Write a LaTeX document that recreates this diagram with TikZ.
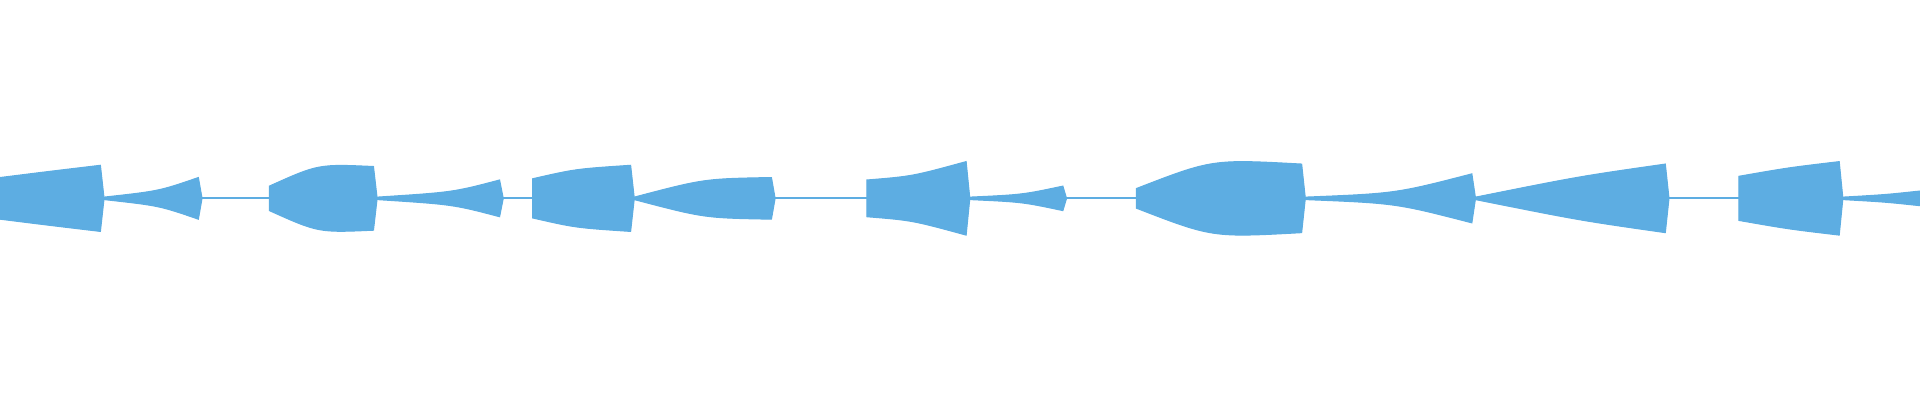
\documentclass[tikz,border=0pt]{standalone}
\definecolor{wave}{RGB}{93,173,226}
\tikzset{wavefill/.style={fill=wave,draw=wave,line width=0.3pt}}
% \blob{x0}{xm}{x1}{a0}{am}{a1}
\newcommand{\blob}[6]{%
  \fill[wavefill] (#1,162-#4) .. controls (#2,162-#5) .. (#3,162-#6) -- (#3+3,162)
    -- (#3,162+#6) .. controls (#2,162+#5) .. (#1,162+#4) -- cycle;}
\begin{document}
\begin{tikzpicture}[x=0.012245cm,y=-0.012245cm]
\useasboundingbox (0,0) rectangle (1568,326.6);
\draw[wave,line width=0.6pt] (0,162) -- (1568,162);
\blob{0}{40}{82}{17}{22}{27}
\blob{85}{130}{162}{1}{6}{17}
\blob{220}{260}{305}{10}{28}{26}
\blob{308}{370}{408}{1}{5}{15}
\blob{435}{470}{515}{16}{24}{27}
\blob{518}{575}{630}{1}{16}{17}
\blob{708}{745}{789}{15}{18}{30}
\blob{792}{835}{868}{1}{3}{10}
\blob{928}{990}{1063}{8}{32}{28}
\blob{1066}{1140}{1202}{1}{4}{20}
\blob{1205}{1290}{1360}{1}{18}{28}
\blob{1420}{1460}{1502}{18}{25}{30}
\blob{1505}{1540}{1568}{1}{3}{6}
\end{tikzpicture}
\end{document}
